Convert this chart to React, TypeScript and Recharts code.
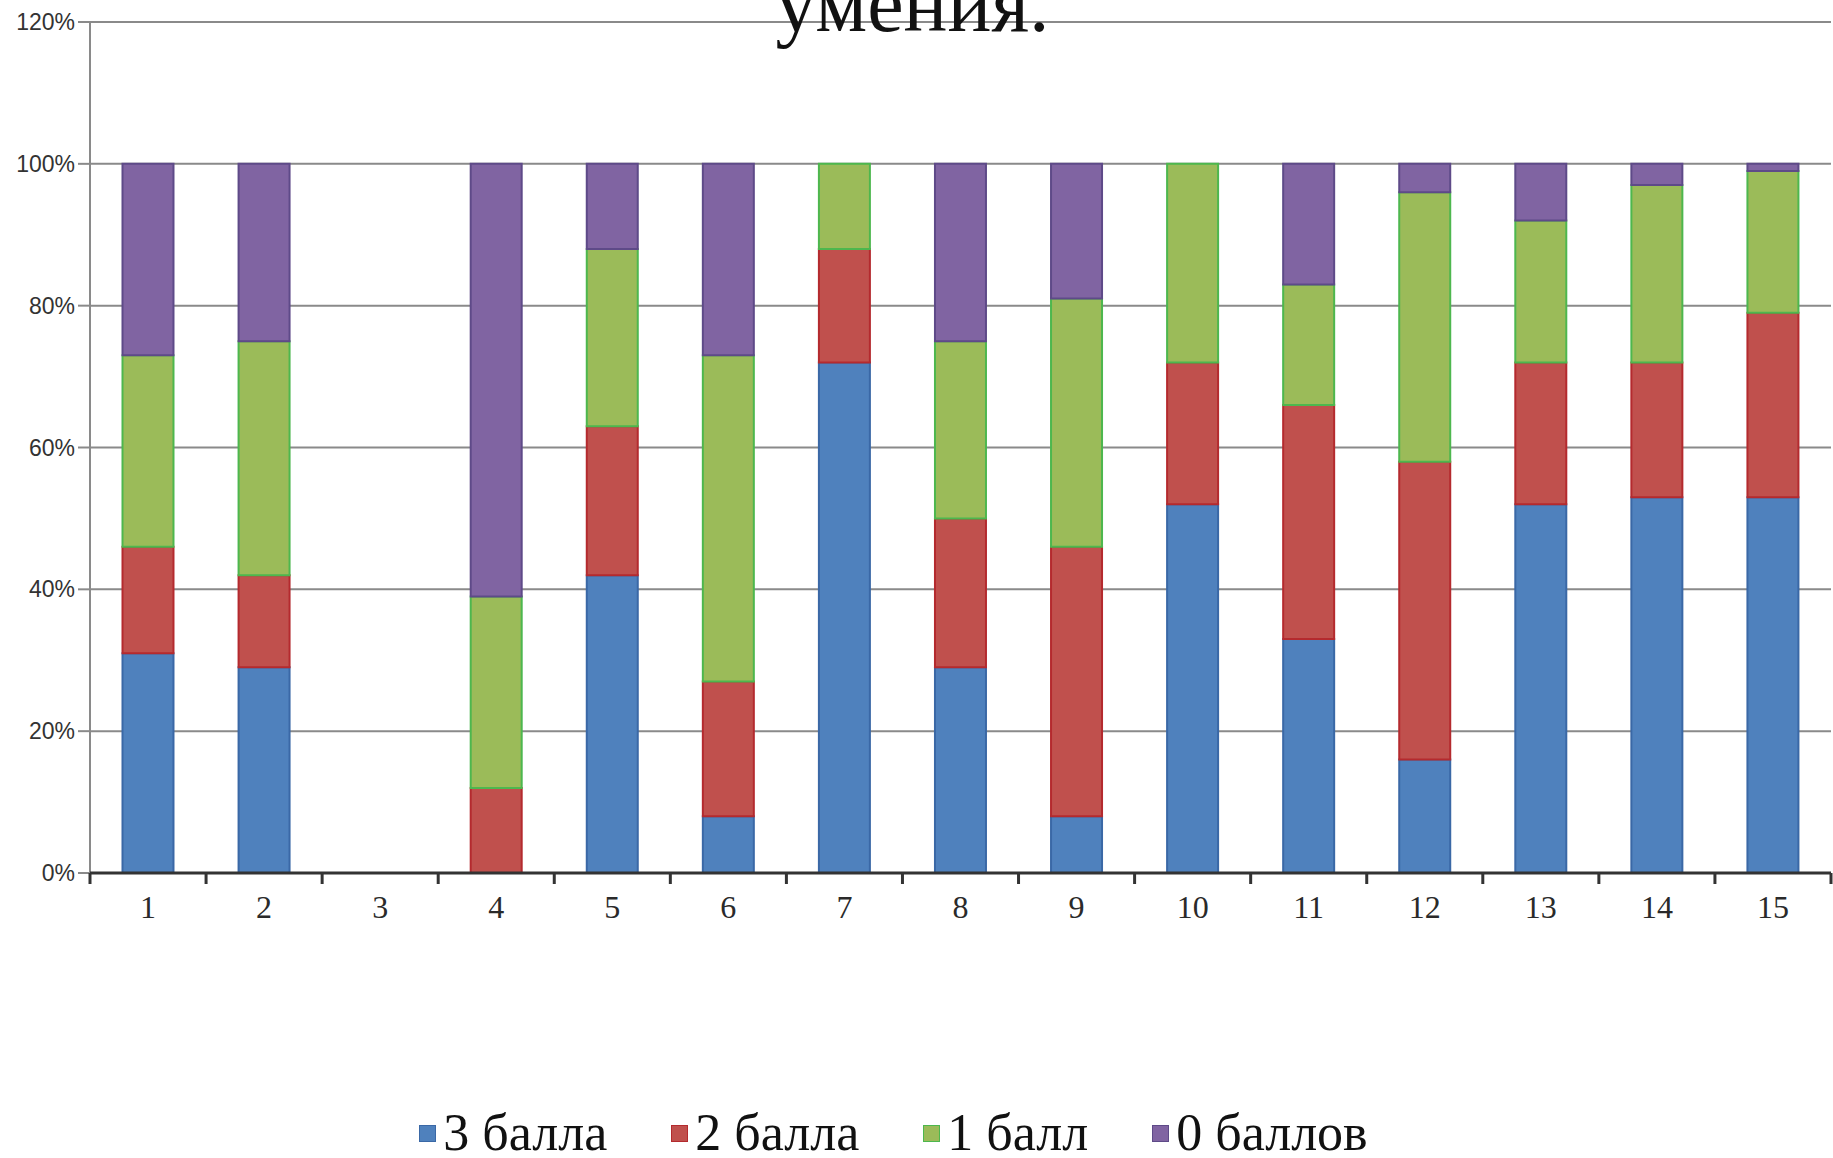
import React from 'react';
import { Bar, BarChart, CartesianGrid, XAxis, YAxis } from 'recharts';

const questions = ['1', '2', '3', '4', '5', '6', '7', '8', '9', '10', '11', '12', '13', '14', '15'];
const score3 = [31, 29, 0, 0, 42, 8, 72, 29, 8, 52, 33, 16, 52, 53, 53];
const score2 = [15, 13, 0, 12, 21, 19, 16, 21, 38, 20, 33, 42, 20, 19, 26];
const score1 = [27, 33, 0, 27, 25, 46, 12, 25, 35, 28, 17, 38, 20, 25, 20];
const score0 = [27, 25, 0, 61, 12, 27, 0, 25, 19, 0, 17, 4, 8, 3, 1];
const yTicks = [0, 20, 40, 60, 80, 100, 120];

const series = [
  { key: 's3', name: '3 балла', fill: '#4F81BD', stroke: '#3A68A6' },
  { key: 's2', name: '2 балла', fill: '#C0504D', stroke: '#B42A2E' },
  { key: 's1', name: '1 балл', fill: '#9BBB59', stroke: '#4DB74E' },
  { key: 's0', name: '0 баллов', fill: '#8064A2', stroke: '#5E4A88' },
];

const chartData = questions.map((q, i) => ({
  name: q,
  s3: score3[i],
  s2: score2[i],
  s1: score1[i],
  s0: score0[i],
}));

const W = 1833;
const H = 1158;
const LEFT = 90;
const RIGHT = 2;
const halfCat = (W - LEFT - RIGHT) / questions.length / 2;

const XTick = (props: any) => {
  const { x, y, payload, index } = props;
  const last = index === questions.length - 1;
  return (
    <g>
      <line x1={x - halfCat} x2={x - halfCat} y1={y} y2={y + 11} stroke='#333' strokeWidth={3} />
      {last && (
        <line x1={x + halfCat} x2={x + halfCat} y1={y} y2={y + 11} stroke='#333' strokeWidth={3} />
      )}
      <text
        x={x}
        y={y + 45}
        textAnchor='middle'
        fontFamily='Liberation Serif'
        fontSize={32}
        fill='#2a2a2a'>
        {payload.value}
      </text>
    </g>
  );
};

export default function App() {
  return (
    <div style={{ position: 'relative', width: W, height: H, overflow: 'hidden', background: '#fff' }}>
      <style>{`body{margin:0}`}</style>
      <BarChart
        width={W}
        height={H}
        data={chartData}
        barCategoryGap='28%'
        margin={{ top: 22, right: RIGHT, left: 0, bottom: 225 }}>
        <CartesianGrid vertical={false} stroke='#8a8a8a' strokeWidth={2} />
        <YAxis
          width={LEFT}
          domain={[0, 120]}
          ticks={yTicks}
          interval={0}
          tickFormatter={(v) => `${v}%`}
          stroke='#8a8a8a'
          strokeWidth={2}
          tickSize={12}
          tickMargin={3}
          tick={{ fontFamily: 'Liberation Sans', fontSize: 23, fill: '#333' }}
        />
        <XAxis
          dataKey='name'
          height={60}
          interval={0}
          tickLine={false}
          tickSize={0}
          tickMargin={0}
          stroke='#333'
          strokeWidth={3}
          tick={<XTick />}
        />
        {series.map((s) => (
          <Bar
            key={s.key}
            dataKey={s.key}
            name={s.name}
            stackId='a'
            fill={s.fill}
            stroke={s.stroke}
            strokeWidth={2}
            isAnimationActive={false}
          />
        ))}
      </BarChart>
      <div
        style={{
          position: 'absolute',
          left: 0,
          width: W,
          top: -41,
          textAlign: 'center',
          fontFamily: 'Liberation Serif',
          fontSize: 82,
          lineHeight: '90px',
          color: '#111',
        }}>
        <span style={{ position: 'relative', left: -4 }}>умения.</span>
      </div>
      <div
        style={{
          position: 'absolute',
          left: 0,
          width: W - 46,
          top: 1103,
          height: 60,
          display: 'flex',
          justifyContent: 'center',
          alignItems: 'center',
          gap: 64,
          fontFamily: 'Liberation Serif',
          fontSize: 52,
          lineHeight: '60px',
          color: '#111',
        }}>
        {series.map((s) => (
          <div key={s.key} style={{ display: 'flex', alignItems: 'center' }}>
            <span
              style={{
                display: 'inline-block',
                width: 15,
                height: 15,
                background: s.fill,
                border: `1px solid ${s.stroke}`,
                marginRight: 7,
              }}
            />
            <span>{s.name}</span>
          </div>
        ))}
      </div>
    </div>
  );
}
